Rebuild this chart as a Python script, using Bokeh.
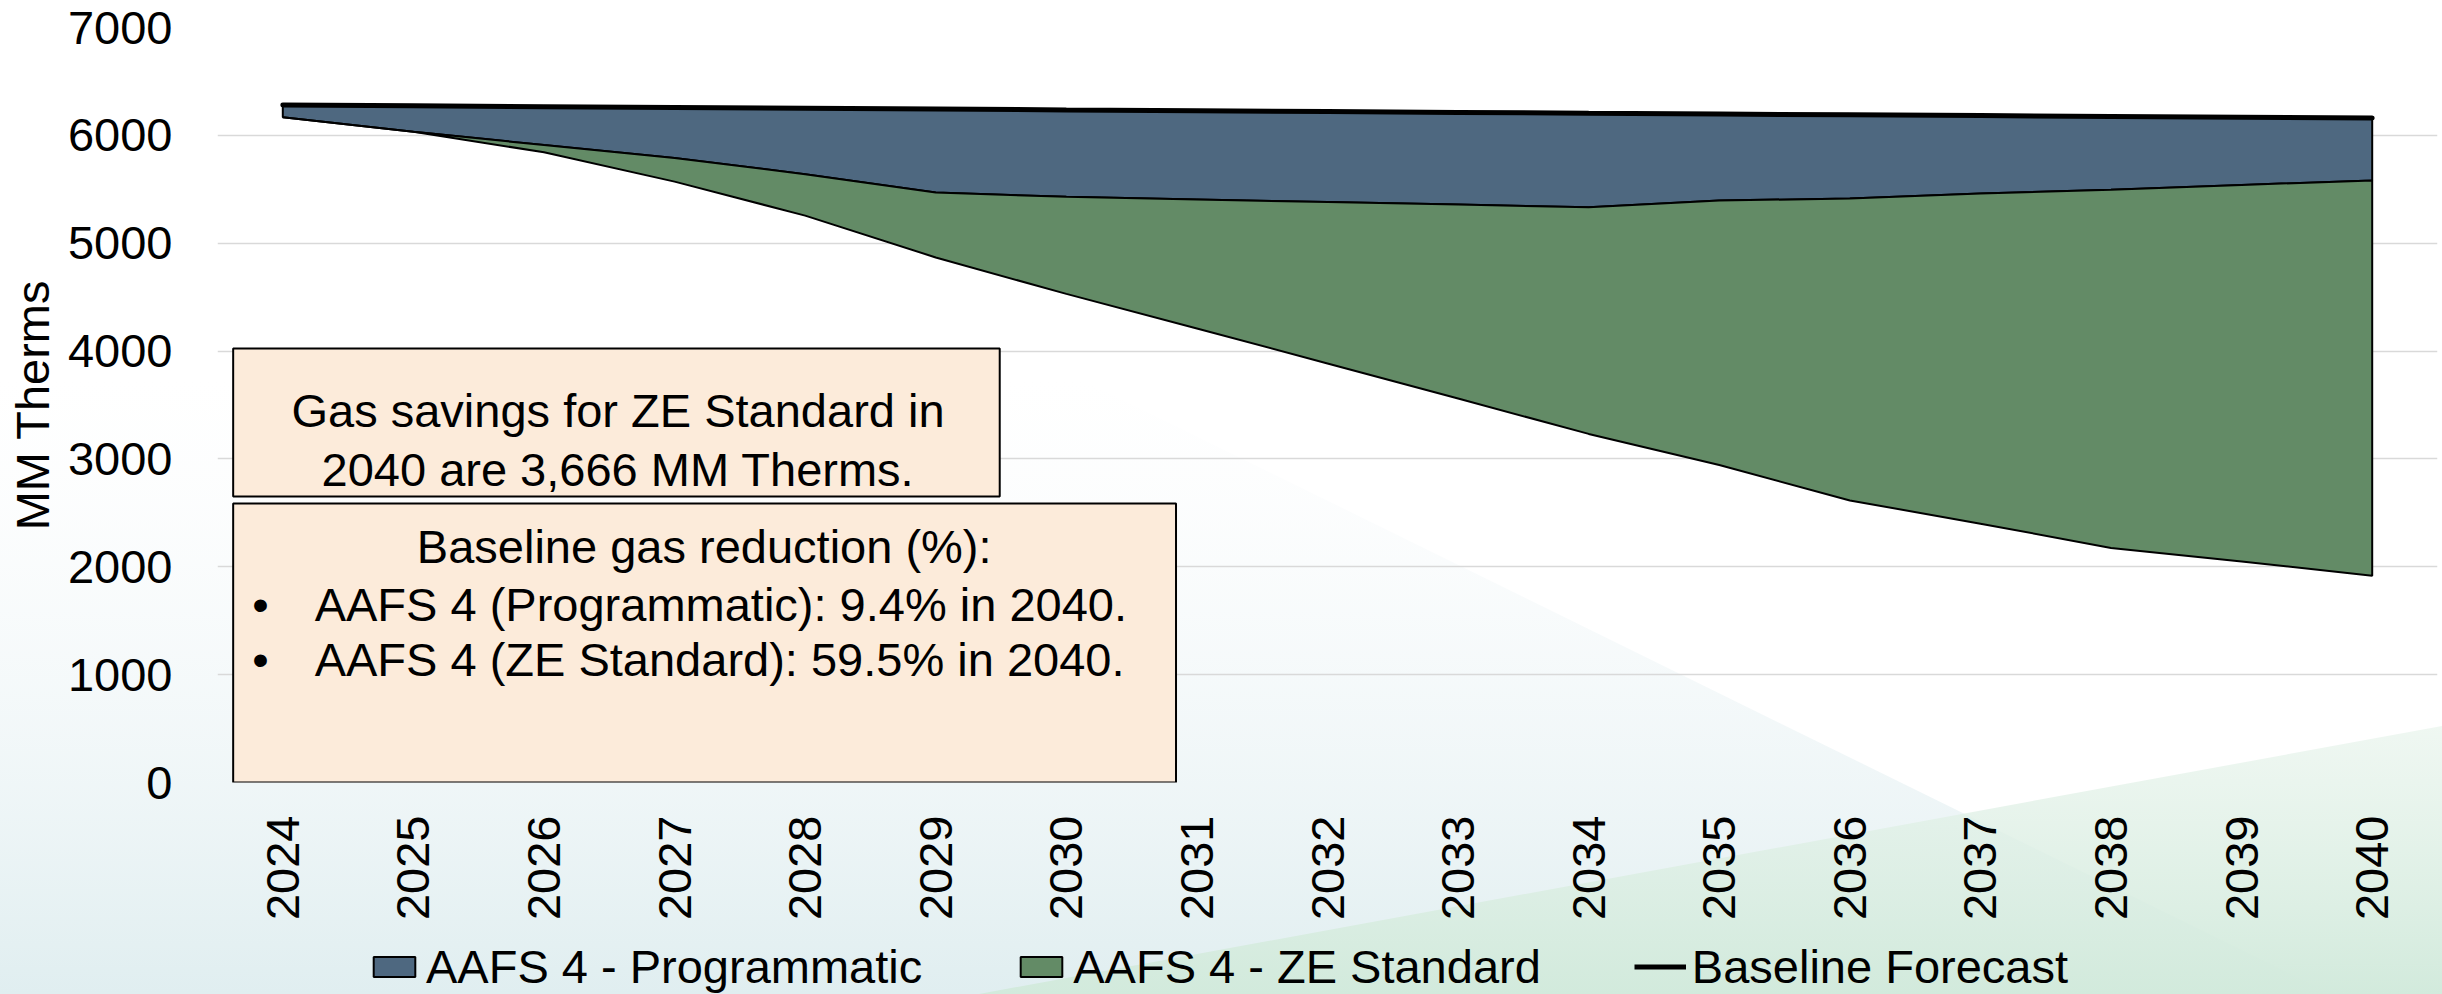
import math
from urllib.parse import quote

from bokeh.plotting import figure
from bokeh.layouts import column
from bokeh.models import (Range1d, FixedTicker, Legend, LegendItem,
                          BoxAnnotation, Label)
from bokeh.embed import file_html
from bokeh.resources import INLINE

# ---------------- data ----------------
years = [2024, 2025, 2026, 2027, 2028, 2029, 2030, 2031, 2032,
         2033, 2034, 2035, 2036, 2037, 2038, 2039, 2040]
baseline = [6281, 6274, 6266, 6259, 6251, 6244, 6236, 6229, 6221,
            6213, 6205, 6198, 6190, 6183, 6175, 6168, 6160]
programmatic = [6167, 6034, 5910, 5790, 5640, 5470, 5430, 5405, 5382,
                5358, 5333, 5395, 5415, 5460, 5495, 5540, 5582]
ze_standard = [6167, 6034, 5843, 5571, 5256, 4868, 4530, 4210, 3885,
               3560, 3232, 2944, 2615, 2400, 2175, 2050, 1916]
y_ticks = [0, 1000, 2000, 3000, 4000, 5000, 6000, 7000]

series_names = ["AAFS 4 - Programmatic", "AAFS 4 - ZE Standard", "Baseline Forecast"]
box1_lines = ["Gas savings for ZE Standard in", "2040 are 3,666 MM Therms."]
box2_title = "Baseline gas reduction (%):"
box2_bullets = ["AAFS 4 (Programmatic): 9.4% in 2040.",
                "AAFS 4 (ZE Standard): 59.5% in 2040."]

FONT = "Liberation Sans"
FS = "47px"
BLUE = "#4E6880"
GREEN = "#638B66"
PEACH = "#FCEBDA"

W = 2442
H_MAIN, H_LEG = 938, 56

p = figure(width=W, height=H_MAIN, output_backend="svg", toolbar_location=None,
           x_range=Range1d(2023.5, 2040.5), y_range=Range1d(0, 7000),
           min_border_left=217, min_border_right=5, min_border_top=27,
           min_border_bottom=H_MAIN - 782)
p.background_fill_color = None
p.border_fill_color = None
p.outline_line_color = None

# axes
p.xaxis.ticker = FixedTicker(ticks=years)
p.yaxis.ticker = FixedTicker(ticks=y_ticks)
for ax in (p.xaxis, p.yaxis):
    ax.axis_line_color = None
    ax.major_tick_line_color = None
    ax.minor_tick_line_color = None
    ax.major_tick_out = 0
    ax.major_tick_in = 0
    ax.major_label_text_font = FONT
    ax.major_label_text_font_size = FS
    ax.major_label_text_color = "black"
p.xaxis.major_label_orientation = math.pi / 2
p.xaxis.major_label_standoff = 33

p.yaxis.major_label_standoff = 45
p.yaxis.axis_label = "MM Therms"
p.yaxis.axis_label_text_font = FONT
p.yaxis.axis_label_text_font_size = FS
p.yaxis.axis_label_text_font_style = "normal"
p.yaxis.axis_label_text_color = "black"
p.yaxis.axis_label_standoff = 6

p.xgrid.visible = False
p.ygrid.ticker = FixedTicker(ticks=y_ticks)
p.ygrid.grid_line_color = "#D9D9D9"
p.ygrid.grid_line_width = 1.5

# areas
xs = years + years[::-1]
blue_y = baseline + programmatic[::-1]
green_y = programmatic + ze_standard[::-1]
p.patch(x=xs, y=blue_y, fill_color=BLUE, line_color="black", line_width=2)
p.patch(x=xs, y=green_y, fill_color=GREEN, line_color="black", line_width=2)
p.line(x=years, y=baseline, line_color="black", line_width=5, line_cap="round")

# text boxes
for l, r, b, t in [(2023.62, 2029.49, 2652, 4024), (2023.62, 2030.84, 0, 2587)]:
    p.add_layout(BoxAnnotation(left=l, right=r, bottom=b, top=t,
                               fill_color=PEACH, fill_alpha=1,
                               line_color="black", line_alpha=1,
                               line_width=2))

def add_label(x, y, text, align):
    p.add_layout(Label(x=x, y=y, text=text, text_align=align,
                       text_baseline="alphabetic", text_font=FONT,
                       text_font_size=FS, text_color="black"))

add_label(2026.567, 3449, box1_lines[0], "center")
add_label(2026.567, 2902, box1_lines[1], "center")
add_label(2027.227, 2188, box2_title, "center")
for yv, line in zip([1650, 1140], box2_bullets):
    add_label(2023.83, yv, "\u2022", "center")
    add_label(2024.244, yv, line, "left")

# ---------------- legend strip ----------------
# same series drawn again, but outside this strip's visible range: they only
# serve as legend glyph sources
lg = figure(width=W, height=H_LEG, output_backend="svg", toolbar_location=None,
            x_range=Range1d(0, 1), y_range=Range1d(0, 1),
            x_axis_location=None, y_axis_location=None,
            min_border_left=0, min_border_right=0,
            min_border_top=0, min_border_bottom=0)
lg.background_fill_color = None
lg.border_fill_color = None
lg.outline_line_color = None
lg.grid.visible = False
r_blue = lg.patch(x=xs, y=blue_y, fill_color=BLUE, line_color="black", line_width=2)
r_green = lg.patch(x=xs, y=green_y, fill_color=GREEN, line_color="black", line_width=2)
r_base = lg.line(x=years, y=baseline, line_color="black", line_width=5)
legend = Legend(items=[LegendItem(label=series_names[0], renderers=[r_blue]),
                       LegendItem(label=series_names[1], renderers=[r_green]),
                       LegendItem(label=series_names[2], renderers=[r_base])],
                orientation="horizontal", location=(151, 0),
                glyph_width=52, glyph_height=25, label_standoff=6, spacing=93,
                padding=0, margin=0, border_line_color=None,
                background_fill_alpha=0, label_text_font=FONT,
                label_text_font_size=FS, label_text_color="black")
lg.add_layout(legend, "center")

layout = column(p, lg, spacing=0)

# background decoration (slide style)
bg_svg = (
    "<svg xmlns='http://www.w3.org/2000/svg' width='2442' height='994' "
    "viewBox='0 0 2442 994' preserveAspectRatio='none'>"
    "<defs>"
    "<linearGradient id='t' gradientUnits='userSpaceOnUse' x1='0' y1='380' x2='0' y2='994'>"
    "<stop offset='0' stop-color='#f4f8fa' stop-opacity='0'/>"
    "<stop offset='1' stop-color='#e0eef0'/></linearGradient>"
    "<linearGradient id='g' gradientUnits='userSpaceOnUse' x1='0' y1='726' x2='0' y2='994'>"
    "<stop offset='0' stop-color='#e8f4ec' stop-opacity='0.7'/>"
    "<stop offset='1' stop-color='#d2eadc'/></linearGradient>"
    "</defs>"
    "<rect x='0' y='0' width='2442' height='994' fill='#ffffff'/>"
    "<polygon points='0,380 1082,380 2331,994 0,994' fill='url(#t)'/>"
    "<polygon points='979,994 2442,726 2442,994' fill='url(#g)'/>"
    "</svg>"
)
layout.styles = {
    "background-image": 'url("data:image/svg+xml,' + quote(bg_svg) + '")',
    "background-size": "100% 100%",
    "background-repeat": "no-repeat",
}

open("out.html", "w").write(file_html(layout, INLINE))
